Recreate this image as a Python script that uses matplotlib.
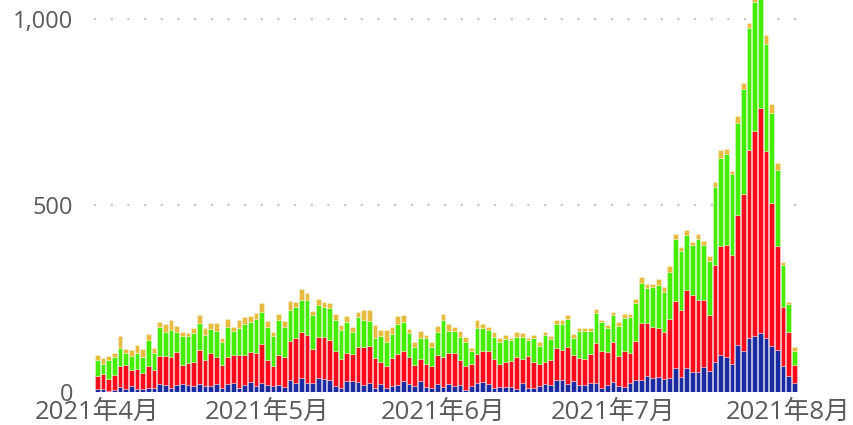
import matplotlib
matplotlib.use("Agg")
import matplotlib.pyplot as plt
import numpy as np

# Daily values, 2021-04-01 .. 2021-08-02
blue = [8,8,4,6,14,9,16,9,9,12,11,21,19,12,20,22,20,17,21,15,16,22,12,21,23,12,18,28,16,25,
        20,17,19,14,33,25,37,25,24,38,34,33,17,12,30,29,28,18,25,12,21,11,15,18,29,21,16,29,14,12,
        21,14,21,17,19,5,16,25,26,21,12,13,14,14,9,23,12,10,15,22,20,32,31,21,29,19,20,25,23,12,
        20,26,15,13,25,32,32,42,37,39,36,37,63,40,65,54,53,68,56,81,98,93,76,127,110,144,149,157,146,122,
        113,71,44,24]
red = [36,40,32,39,56,64,42,52,41,58,49,75,77,81,88,51,58,64,91,72,89,71,61,73,76,87,81,80,88,103,
       67,53,81,79,104,121,124,128,90,110,114,107,94,77,75,72,93,103,97,80,60,60,77,83,82,73,57,59,60,58,
       77,80,83,87,66,66,60,77,84,89,76,63,67,69,85,66,84,71,61,59,65,85,82,100,71,71,68,76,109,98,
       88,107,81,97,79,105,153,143,136,132,124,159,181,181,208,205,193,178,149,260,293,302,290,347,421,504,549,605,500,384,
       277,158,117,49]
green = [41,28,49,48,49,32,39,43,45,70,44,78,66,74,54,78,73,76,74,65,64,71,60,81,65,72,84,80,92,86,
         87,81,93,80,82,83,86,93,91,84,80,86,81,78,83,61,79,73,68,54,70,62,63,80,77,64,48,58,72,51,
         64,99,59,59,62,62,35,69,61,56,59,59,61,56,53,58,42,65,48,72,58,66,70,75,44,73,75,62,79,78,
         64,74,82,89,98,102,107,94,108,116,109,126,165,156,148,135,163,149,147,207,236,242,218,247,280,327,347,310,287,242,
         205,111,76,38]
yellow = [13,15,11,11,31,11,15,21,21,15,15,14,20,26,15,10,7,15,19,19,17,22,13,21,11,22,17,16,15,24,
          15,10,15,16,26,12,28,20,13,17,14,13,16,12,15,13,13,26,31,34,15,33,18,23,17,10,13,17,8,12,
          16,16,20,12,16,14,6,22,12,9,13,11,10,7,13,12,7,7,10,7,7,10,9,9,12,8,8,8,11,5,
          7,6,10,11,7,11,15,9,7,17,13,15,13,11,13,8,13,9,11,15,21,13,9,17,18,14,8,15,23,23,
          18,7,4,10]

tick_pos = [0, 30, 61, 91, 122]
tick_labels = ["2021年4月", "2021年5月", "2021年6月", "2021年7月", "2021年8月"]
y_ticks = [0, 500, 1000]
y_labels = ["0", "500", "1,000"]

series = [blue, red, green, yellow]
colors = ["#1b2a9e", "#ff0a1c", "#45ee00", "#e6bb3e"]

fig = plt.figure(figsize=(8.54, 4.25), dpi=100)
ax = fig.add_axes([0.110, 0.0776, 0.824, 0.9224])

x = np.arange(len(blue))
bottom = np.zeros(len(blue))
for vals, c in zip(series, colors):
    v = np.array(vals, dtype=float)
    ax.bar(x, v, bottom=bottom, width=0.82, color=c, edgecolor=(1, 1, 1, 0.45),
           linewidth=0.5, zorder=2)
    bottom += v

ax.set_xlim(-0.6, len(blue) - 0.4)
ax.set_ylim(0, 1050)

for s in ax.spines.values():
    s.set_visible(False)

ax.set_yticks(y_ticks)
ax.set_yticklabels(y_labels)
ax.set_xticks(tick_pos)
ax.set_xticklabels(tick_labels)
ax.tick_params(axis="both", length=0, colors="#5a5a5a")
ax.tick_params(axis="y", pad=15)
ax.tick_params(axis="x", pad=6)
fam = ["Open Sans", "Noto Sans CJK JP", "DejaVu Sans"]
for lab in ax.get_yticklabels():
    lab.set_fontfamily(fam)
    lab.set_fontsize(17)
    lab.set_color("#5a5a5a")
for lab in ax.get_xticklabels():
    lab.set_fontfamily(fam)
    lab.set_fontsize(18.5)
    lab.set_color("#5a5a5a")

for yv in [500, 1000]:
    ax.axhline(yv, color="#c8c8c8", linewidth=1.6, linestyle=(0, (1, 6.5)), zorder=1)

fig.savefig("out.png", dpi=100)
